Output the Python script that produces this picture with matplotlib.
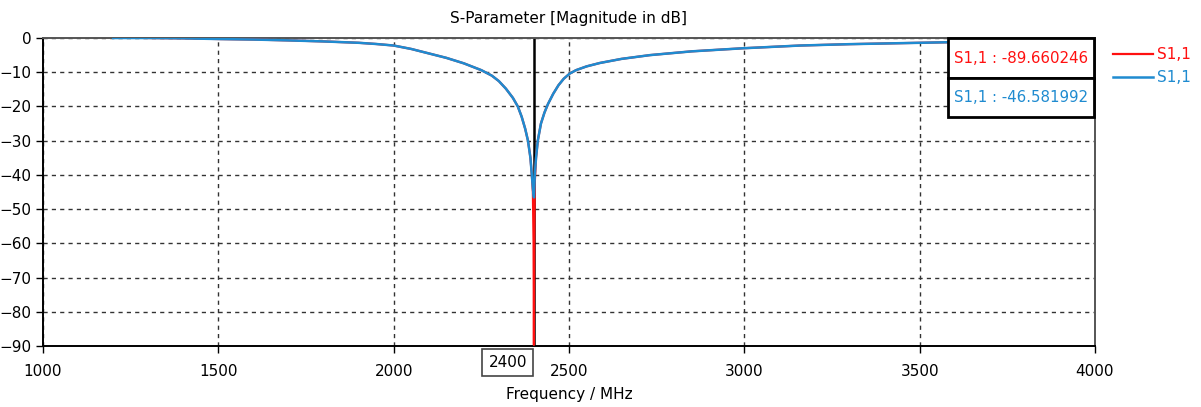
import numpy as np
import matplotlib
matplotlib.use("Agg")
import matplotlib.pyplot as plt
from matplotlib.patches import Rectangle

# S1,1 magnitude in dB
freq_red = [1200, 1300, 1400, 1500, 1600, 1700, 1800, 1900, 1950, 2000, 2050, 2100,
            2150, 2200, 2250, 2280, 2300, 2320, 2340, 2354, 2365, 2375, 2383, 2390, 2394,
            2397, 2399, 2400, 2401, 2402.5, 2406, 2411, 2420, 2430, 2440, 2455, 2470, 2485,
            2502, 2520, 2550, 2588, 2650, 2731, 2850, 2996, 3159, 3300, 3450, 3600]
mag_red = [0.2, 0.0, -0.1, -0.3, -0.45, -0.7, -1.0, -1.4, -1.75, -2.2, -3.2, -4.5,
           -5.8, -7.4, -9.4, -11.0, -12.6, -14.8, -17.5, -20.0, -23.0, -26.5, -30.0, -35.0, -40.0,
           -45.0, -60.0, -89.66, -60.0, -42.0, -35.0, -30.0, -25.0, -21.8, -19.3, -16.3, -13.8, -11.9,
           -10.4, -9.4, -8.3, -7.3, -6.1, -5.0, -3.9, -3.0, -2.2, -1.8, -1.5, -1.2]

freq_blue = [1200, 1300, 1400, 1500, 1600, 1700, 1800, 1900, 1950, 2000, 2050, 2100,
             2150, 2200, 2250, 2280, 2300, 2320, 2340, 2354, 2365, 2375, 2383, 2390, 2394,
             2397, 2400, 2402.5, 2406, 2411, 2420, 2430, 2440, 2455, 2470, 2485,
             2502, 2520, 2550, 2588, 2650, 2731, 2850, 2996, 3159, 3300, 3450, 3600]
mag_blue = [0.0, 0.0, -0.1, -0.3, -0.45, -0.7, -1.0, -1.4, -1.75, -2.2, -3.2, -4.5,
            -5.8, -7.4, -9.4, -11.0, -12.6, -14.8, -17.5, -20.0, -23.0, -26.5, -30.0, -35.0, -40.0,
            -44.0, -46.58, -40.0, -35.0, -30.0, -25.0, -21.8, -19.3, -16.3, -13.8, -11.9,
            -10.4, -9.4, -8.3, -7.3, -6.1, -5.0, -3.9, -3.0, -2.2, -1.8, -1.5, -1.2]

marker_freq = 2400
marker_red = "S1,1 : -89.660246"
marker_blue = "S1,1 : -46.581992"

red = "#ff1010"
blue = "#1f8bd0"

plt.rcParams['font.family'] = ['DejaVu Sans']
fig = plt.figure(figsize=(12.01, 4.07), dpi=100)
ax = fig.add_axes([43 / 1201, 1 - 346 / 407, 1052 / 1201, 308 / 407])

ax.plot(freq_red, mag_red, color=red, lw=1.6, label="S1,1", zorder=3)
ax.plot(freq_blue, mag_blue, color=blue, lw=1.8, label="S1,1", zorder=4)
ax.axvline(marker_freq, color="black", lw=1.8, zorder=2)

ax.set_xlim(1000, 4000)
ax.set_ylim(-90, 0)
ax.set_xticks([1000, 1500, 2000, 2500, 3000, 3500, 4000])
ax.set_yticks(np.arange(-90, 1, 10))
ax.grid(True, color="#333333", linestyle=(0, (3, 3)), lw=1.0)
ax.tick_params(labelsize=11, length=5, width=1)
ax.tick_params(axis="x", pad=8)
ax.tick_params(axis="y", pad=3)

for side in ["left", "bottom"]:
    ax.spines[side].set_color("black")
    ax.spines[side].set_linewidth(1.4)
for side in ["top", "right"]:
    ax.spines[side].set_color("#555555")
    ax.spines[side].set_linewidth(1.4)

ax.set_title("S-Parameter [Magnitude in dB]", fontsize=11, pad=11)
ax.set_xlabel("Frequency / MHz", fontsize=11, labelpad=6)

# marker readout boxes, stacked in the top right corner
box_x, box_w = 0.860, 0.139
box_rows = [(0.870, 0.130, marker_red, red), (0.7435, 0.1265, marker_blue, blue)]
for y0, h, label, col in box_rows:
    ax.add_patch(Rectangle((box_x, y0), box_w, h, transform=ax.transAxes, fc="white",
                           ec="black", lw=2, zorder=6, clip_on=False))
    ax.text(box_x + box_w / 2, y0 + h / 2, label, transform=ax.transAxes, color=col,
            fontsize=10.8, ha="center", va="center", zorder=7)

# marker frequency label on the x axis
ax.text(marker_freq - 75, -94.8, str(marker_freq), fontsize=11, ha="center", va="center",
        clip_on=False, bbox=dict(boxstyle="square,pad=0.4", fc="white", ec="#444444", lw=1.2))

leg = fig.legend(loc="upper left", bbox_to_anchor=(1113 / 1201, 1 - 47 / 407), frameon=False,
                 fontsize=11, handlelength=2.6, handletextpad=0.3, labelspacing=0.55,
                 borderpad=0, borderaxespad=0)
for txt, col in zip(leg.get_texts(), [red, blue]):
    txt.set_color(col)

fig.savefig("out.png", dpi=100)
